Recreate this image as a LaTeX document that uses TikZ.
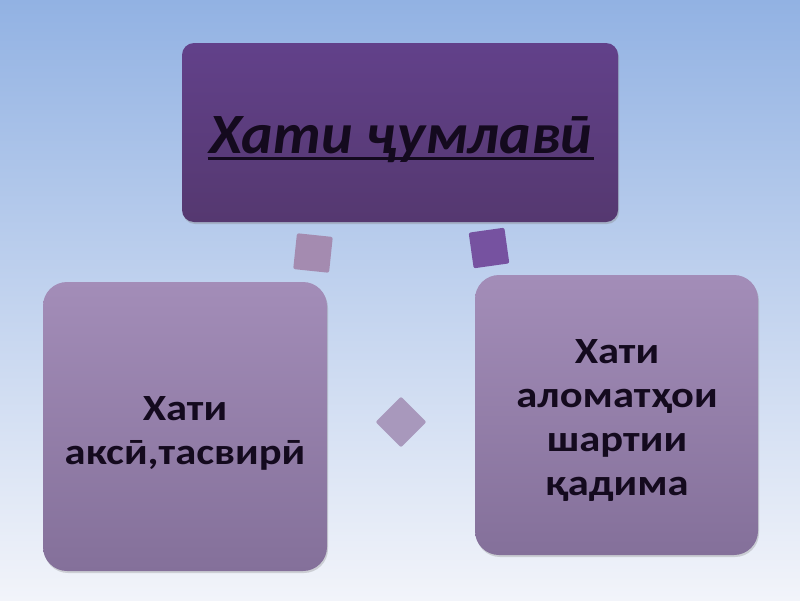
\documentclass[tikz,border=0pt]{standalone}
\usepackage{fontspec}
\setmainfont{Carlito}
\newfontfamily\widefont[FakeStretch=1.15]{Carlito}
\newfontfamily\titlefont[FakeStretch=1.05]{Carlito}
\usetikzlibrary{shadows}
\definecolor{bgtop}{HTML}{92B2E3}
\definecolor{bgbot}{HTML}{F2F4FA}
\definecolor{topA}{HTML}{62418A}
\definecolor{topB}{HTML}{553870}
\definecolor{boxA}{HTML}{A38DB8}
\definecolor{boxB}{HTML}{84709A}
\definecolor{ink}{HTML}{140A1E}
\definecolor{decoA}{HTML}{A48BB0}
\definecolor{decoB}{HTML}{7652A0}
\definecolor{decoC}{HTML}{A898BC}
\tikzset{
  mainbox/.style={rounded corners=12pt, top color=topA, bottom color=topB, draw=none,
    drop shadow={shadow xshift=1pt, shadow yshift=-2pt, opacity=0.35}},
  subbox/.style={rounded corners=24pt, top color=boxA, bottom color=boxB, draw=none,
    drop shadow={shadow xshift=1pt, shadow yshift=-2pt, opacity=0.3}},
  bodytext/.style={font=\widefont\fontsize{37}{44}\selectfont\bfseries, text=ink, align=center},
  titletext/.style={font=\titlefont\fontsize{57}{60}\selectfont\bfseries\itshape, text=ink, inner sep=0pt, anchor=base},
  deco/.style={draw=none, minimum size=36pt, inner sep=0pt, rounded corners=2pt}
}
\begin{document}
\begin{tikzpicture}[x=1pt,y=-1pt]
\shade[top color=bgtop, bottom color=bgbot] (0,0) rectangle (800,600);
\useasboundingbox (0,0) rectangle (800,600);
% boxes
\path[mainbox] (182,43) rectangle (618,222);
\node (title) [titletext] at (401,153) {Хати ҷумлавӣ};
\draw[ink, line width=3.5pt] ([xshift=-2pt,yshift=-5.5pt]title.base west) -- ([xshift=2pt,yshift=-5.5pt]title.base east);
\path[subbox] (43,282) rectangle (327,571);
\node (left) [bodytext] at (185,433) {Хати\\аксӣ,тасвирӣ};
\path[subbox] (475,275) rectangle (758,555);
\node (right) [bodytext] at (617,420) {Хати\\аломатҳои\\шартии\\қадима};
% decorations
\node (d1) [deco, fill=decoA, rotate=-6] at (313,253) {};
\node (d2) [deco, fill=decoB, rotate=8] at (489,248) {};
\node (d3) [deco, fill=decoC, rotate=45] at (401,422) {};
\end{tikzpicture}
\end{document}
